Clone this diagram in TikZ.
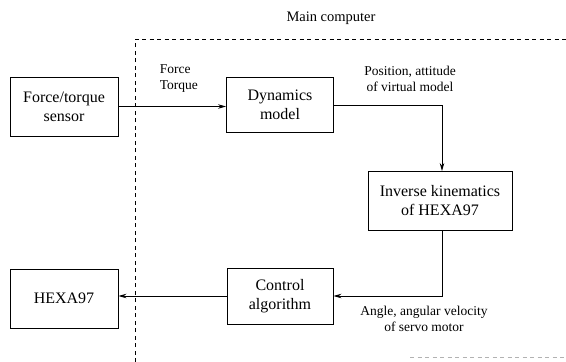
\documentclass[tikz,border=0pt]{standalone}
\usepackage{fontspec}
\setmainfont{Liberation Serif}
\usetikzlibrary{arrows.meta}

\begin{document}
\begin{tikzpicture}[x=1pt,y=-1pt,line width=0.9pt,-{Stealth[length=8pt,width=4.5pt]}]
    \tikzstyle{block}=[rectangle,draw=black,fill=white,align=center,inner sep=2pt,font=\fontsize{16}{19}\selectfont]
    \tikzstyle{lbl}=[align=center,font=\fontsize{13.5}{16}\selectfont]
    \tikzstyle{region}=[dashed,dash pattern=on 4pt off 3.5pt,-]

        \useasboundingbox (0,0) rectangle (566,362);

        % main computer region
        \draw[region] (135,362) -- (135,39) -- (566,39);
        \draw[region,black!30] (410,357) -- (566,357);
        \node[lbl,font=\fontsize{14.5}{17}\selectfont] (main) at (331,18) {Main computer};

        \node[block,minimum width=108pt,minimum height=59pt] (sensor) at (64,106.5) {Force/torque\\sensor};
        \node[block,minimum width=107pt,minimum height=55pt] (dyn) at (280,104.5) {Dynamics\\model};
        \node[block,minimum width=144pt,minimum height=59pt] (inv) at (440,201) {Inverse kinematics\\of HEXA97};
        \node[block,minimum width=106pt,minimum height=56pt] (ctrl) at (280,296) {Control\\algorithm};
        \node[block,minimum width=108pt,minimum height=59pt] (hexa) at (64,298.5) {HEXA97};

        \coordinate (c-1) at (442,105);
        \coordinate (c-2) at (442,296);

        \draw (sensor.east) -- (dyn.west |- sensor.east);
        \draw (dyn.east |- c-1) -- (c-1) -- (c-1 |- inv.north);
        \draw (c-2 |- inv.south) -- (c-2) -- (ctrl.east |- c-2);
        \draw (ctrl.west) -- (hexa.east |- ctrl.west);

        \node[lbl,align=left,anchor=west] (ft) at (156,79) {Force\\Torque};
        \node[lbl] (pos) at (410,79) {Position, attitude\\of virtual model};
        \node[lbl] (ang) at (424,319) {Angle, angular velocity\\of servo motor};
\end{tikzpicture}
\end{document}
